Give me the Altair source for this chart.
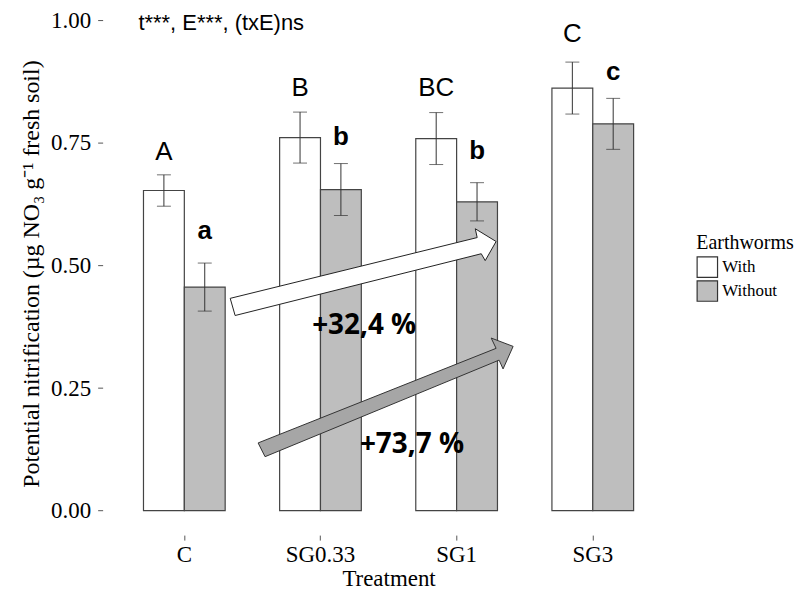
import altair as alt
import pandas as pd

# ---- data ----
treatments = ["C", "SG0.33", "SG1", "SG3"]
groups = ["With", "Without"]
with_mean = [0.653, 0.761, 0.759, 0.862]
with_se = [0.032, 0.052, 0.053, 0.053]
without_mean = [0.456, 0.655, 0.630, 0.789]
without_se = [0.049, 0.053, 0.039, 0.052]
with_letters = ["A", "B", "BC", "C"]
without_letters = ["a", "b", "b", "c"]
with_letter_y = [0.715, 0.846, 0.846, 0.955]
without_letter_y = [0.555, 0.746, 0.717, 0.878]

# arrow outlines in (treatment index, value) units
white_arrow_x = [0.337, 2.151, 2.137, 2.290, 2.210, 2.181, 0.373, 0.337]
white_arrow_y = [0.433, 0.557, 0.575, 0.549, 0.510, 0.524, 0.398, 0.433]
grey_arrow_x = [0.542, 2.290, 2.254, 2.415, 2.341, 2.312, 0.593, 0.542]
grey_arrow_y = [0.138, 0.331, 0.352, 0.335, 0.289, 0.307, 0.110, 0.138]

pct_labels = ["+32,4 %", "+73,7 %"]
pct_x = [1.321, 1.672]
pct_y = [0.360, 0.118]

header = "t***, E***, (txE)ns"
header_x = -0.337
header_y = 0.980

# ---- tables ----
rows = []
for i, t in enumerate(treatments):
    rows.append(dict(Treatment=t, Earthworms="With", mean=with_mean[i],
                     lo=with_mean[i] - with_se[i], hi=with_mean[i] + with_se[i],
                     letter=with_letters[i], ly=with_letter_y[i]))
    rows.append(dict(Treatment=t, Earthworms="Without", mean=without_mean[i],
                     lo=without_mean[i] - without_se[i], hi=without_mean[i] + without_se[i],
                     letter=without_letters[i], ly=without_letter_y[i]))
df = pd.DataFrame(rows)

arrows = pd.DataFrame(
    [dict(arrow="white", i=k, x=x, y=y) for k, (x, y) in enumerate(zip(white_arrow_x, white_arrow_y))]
    + [dict(arrow="grey", i=k, x=x, y=y) for k, (x, y) in enumerate(zip(grey_arrow_x, grey_arrow_y))]
)
pct = pd.DataFrame(dict(label=pct_labels, x=pct_x, y=pct_y))
hdr = pd.DataFrame(dict(label=[header], x=[header_x], y=[header_y]))

SERIF = "Liberation Serif"
SANS = "Liberation Sans"

yscale = alt.Scale(domain=[-0.05, 1.017], nice=False, zero=False)
xband = alt.X("Treatment:N", sort=treatments,
              scale=alt.Scale(paddingInner=0.4, paddingOuter=0.3),
              axis=alt.Axis(title="Treatment", labelAngle=0, domain=False, grid=False,
                            tickSize=5, tickColor="#555", labelPadding=3,
                            labelFont=SERIF, labelFontSize=23, labelColor="black",
                            titleFont=SERIF, titleFontSize=23, titleFontWeight="normal",
                            titleColor="black", titlePadding=2))
xoff = alt.XOffset("Earthworms:N", sort=groups, scale=alt.Scale(paddingInner=0, paddingOuter=0))

base = alt.Chart(df)

bars = base.mark_bar(stroke="#444", strokeWidth=1.2).encode(
    x=xband, xOffset=xoff,
    y=alt.Y("mean:Q", scale=yscale,
            axis=alt.Axis(values=[0, 0.25, 0.5, 0.75, 1.0], format=".2f", domain=False, grid=False,
                          tickSize=5, tickColor="#555", labelPadding=7,
                          labelFont=SERIF, labelFontSize=23, labelColor="black",
                          title="Potential nitrification (µg NO₃ g⁻¹ fresh soil)",
                          titleFont=SERIF, titleFontSize=24, titleFontWeight="normal",
                          titleColor="black", titlePadding=7)),
    fill=alt.Fill("Earthworms:N", sort=groups,
                  scale=alt.Scale(domain=groups, range=["white", "#BEBEBE"]),
                  legend=alt.Legend(title="Earthworms", orient="none", legendX=596, legendY=222,
                                    symbolType="square", symbolSize=420,
                                    symbolStrokeColor="#333", symbolStrokeWidth=1.2,
                                    titleFont=SERIF, titleFontSize=20, titleFontWeight="normal",
                                    titleColor="black", titlePadding=3,
                                    labelFont=SERIF, labelFontSize=17, labelColor="black",
                                    labelOffset=4, rowPadding=-7)),
)

err = base.mark_rule(color="#333", strokeWidth=1).encode(
    x="Treatment:N", xOffset=xoff, y="lo:Q", y2="hi:Q")
cap_lo = base.mark_tick(color="#333", thickness=1, size=14, orient="horizontal").encode(
    x="Treatment:N", xOffset=xoff, y="lo:Q")
cap_hi = base.mark_tick(color="#333", thickness=1, size=14, orient="horizontal").encode(
    x="Treatment:N", xOffset=xoff, y="hi:Q")

letters_up = base.transform_filter(alt.datum.Earthworms == "With").mark_text(
    font=SANS, fontSize=26, color="black", align="center", baseline="alphabetic").encode(
    x="Treatment:N", xOffset=xoff, y="ly:Q", text="letter:N")
letters_low = base.transform_filter(alt.datum.Earthworms == "Without").mark_text(
    font=SANS, fontSize=26, fontWeight="bold", color="black", align="center",
    baseline="alphabetic").encode(
    x="Treatment:N", xOffset=xoff, y="ly:Q", text="letter:N")

band_layer = alt.layer(bars, err, cap_lo, cap_hi, letters_up, letters_low)

xq = alt.Scale(domain=[-0.6, 3.6], nice=False, zero=False)

white_arrow = alt.Chart(arrows).transform_filter(alt.datum.arrow == "white").mark_line(
    fill="white", stroke="#222", strokeWidth=1, interpolate="linear").encode(
    x=alt.X("x:Q", scale=xq, axis=None), y=alt.Y("y:Q", scale=yscale), order="i:Q")
grey_arrow = alt.Chart(arrows).transform_filter(alt.datum.arrow == "grey").mark_line(
    fill="#A6A6A6", stroke="#333", strokeWidth=1, interpolate="linear").encode(
    x=alt.X("x:Q", scale=xq, axis=None), y=alt.Y("y:Q", scale=yscale), order="i:Q")
pct_text = alt.Chart(pct).mark_text(
    font="Open Sans", fontSize=28, fontWeight="bold", color="black",
    align="center", baseline="alphabetic").encode(
    x=alt.X("x:Q", scale=xq, axis=None), y=alt.Y("y:Q", scale=yscale), text="label:N")
hdr_text = alt.Chart(hdr).mark_text(
    font=SANS, fontSize=22, color="black", align="left", baseline="alphabetic").encode(
    x=alt.X("x:Q", scale=xq, axis=None), y=alt.Y("y:Q", scale=yscale), text="label:N")

quant_layer = alt.layer(white_arrow, grey_arrow, pct_text, hdr_text)

chart = alt.layer(band_layer, quant_layer).resolve_scale(x="independent").properties(
    width=574, height=525,
    padding={"left": 11, "top": 0, "right": 0, "bottom": 0},
    background="white",
).configure_view(stroke=None)

chart.save("out.html", embed_options={"renderer": "svg", "actions": False})
